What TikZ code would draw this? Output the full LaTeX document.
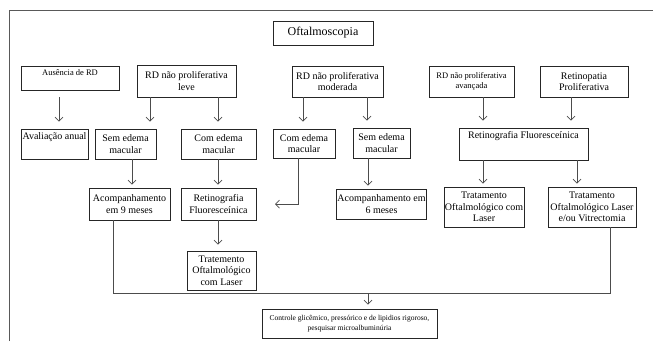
\documentclass[tikz,border=0pt]{standalone}
\usepackage{fontspec}
\setmainfont{Liberation Serif}
\usetikzlibrary{arrows.meta}

\tikzset{
  box/.style={draw=black!85, line width=0.7pt, align=center, inner sep=1pt,
    font=\fontsize{10}{11.5}\selectfont},
  sz/.style 2 args={minimum width=#1pt, minimum height=#2pt},
  smalltxt/.style={font=\fontsize{8.5}{10}\selectfont},
  topbox/.style 2 args={text height=#1pt, text depth=#2pt, inner ysep=2pt},
  link/.style={draw=black!70, line width=0.7pt},
}

\begin{document}
\begin{tikzpicture}[x=1pt, y=-1pt, >={Straight Barb[length=4pt,width=8pt]}]
    \useasboundingbox (0,0) rectangle (653,341);
    % frame
    \draw[black!65, line width=1pt] (9,341) -- (9,10) -- (653,10);

    \node[box, sz={100}{24}, font=\fontsize{12}{14}\selectfont] (oft) at (323,33) {Oftalmoscopia};

    % first row
    \node[box, sz={98}{24}, smalltxt, topbox={7}{13}] (aus) at (70,78) {Ausência de RD};
    \node[box, sz={99}{32}] (leve) at (186.5,81) {RD não proliferativa\\leve};
    \node[box, sz={91}{31}] (mod) at (337.5,81.5) {RD não proliferativa\\moderada};
    \node[box, sz={85}{31}, smalltxt] (ava) at (471.5,81.5) {RD não proliferativa\\avançada};
    \node[box, sz={88}{31}] (ret) at (584,81.5) {Retinopatia\\Proliferativa};

    % second row
    \node[box, sz={67}{30}, topbox={8}{18}] (aval) at (54.5,144) {Avaliação anual};
    \node[box, sz={61}{30}] (sem1) at (125.5,144) {Sem edema\\macular};
    \node[box, sz={75}{30}] (com1) at (218.5,144) {Com edema\\macular};
    \node[box, sz={62}{29}] (com2) at (304,143.5) {Com edema\\macular};
    \node[box, sz={57}{30}] (sem2) at (381.5,143) {Sem edema\\macular};
    \node[box, sz={129}{32}, topbox={8}{20}] (retfl) at (523.5,144) {Retinografia Fluoresceínica};

    % third row
    \node[box, sz={81}{32}] (acomp9) at (129.5,204) {Acompanhamento\\em 9 meses};
    \node[box, sz={75}{32}] (retfm) at (218.5,204) {Retinografia\\Fluoresceínica};
    \node[box, sz={89}{30}] (acomp6) at (381.5,204) {Acompanhamento em\\6 meses};
    \node[box, sz={72}{40}] (trat1) at (484,207) {Tratamento\\Oftalmológico com\\Laser};
    \node[box, sz={88}{40}] (trat2) at (592,207) {Tratamento\\Oftalmológico Laser\\e/ou Vitrectomia};

    \node[box, sz={69}{39}] (trattm) at (221.5,270.5) {Tratemento\\Oftalmológico\\com Laser};
    \node[box, sz={175}{29}, font=\fontsize{7.5}{9.5}\selectfont] (ctrl) at (349.5,323.5) {Controle glicêmico, pressórico e de lipidios rigoroso,\\pesquisar microalbuminúria};

    % arrows
    \draw[link, ->, shorten <=7pt, shorten >=7pt] (59,0 |- aus.south) -- (59,0 |- aval.north);
    \foreach \a/\b/\x in {leve/sem1/150, leve/com1/218, mod/com2/303, mod/sem2/367, ava/retfl/483, ret/retfl/571}
      \draw[link, ->, shorten >=7pt] (\x,0 |- \a.south) -- (\x,0 |- \b.north);
    \foreach \a/\b/\x in {sem1/acomp9/132, com1/retfm/218, sem2/acomp6/368, retfl/trat1/483, retfl/trat2/577}
      \draw[link, ->, shorten >=3pt] (\x,0 |- \a.south) -- (\x,0 |- \b.north);
    \draw[link, ->, shorten >=6pt] (218,0 |- retfm.south) -- (218,0 |- trattm.north);

    \coordinate (cend) at (275,204);
    \draw[link, ->] (298,0 |- com2.south) |- (cend);

    \coordinate (jl) at (113,293);
    \coordinate (jr) at (610,293);
    \draw[link] (113,0 |- acomp9.south) -- (jl) -- (jr) -- (610,0 |- trat2.south);
    \draw[link, ->, shorten >=4pt] (368,293) -- (368,0 |- ctrl.north);
\end{tikzpicture}
\end{document}
